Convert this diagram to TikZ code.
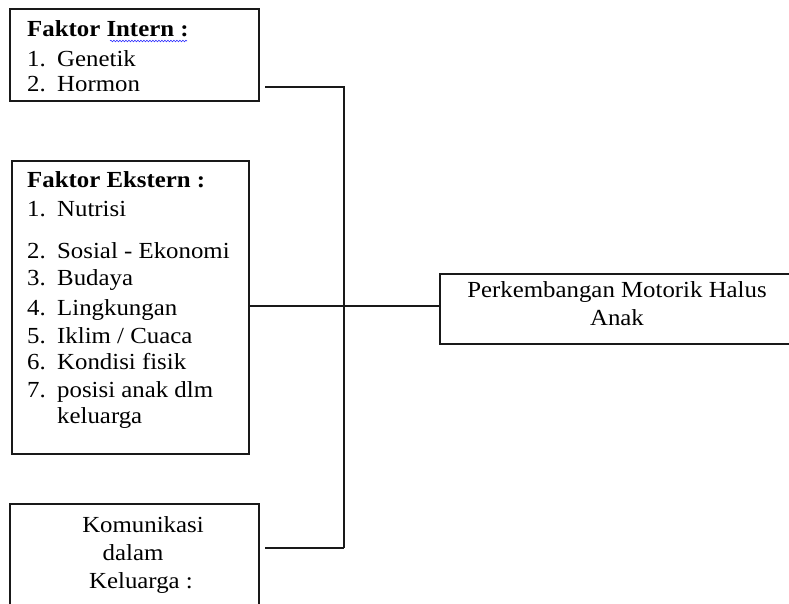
\documentclass[tikz,border=0pt]{standalone}
\usepackage{fontspec}
\setmainfont{Liberation Serif}[FakeStretch=1.08]
\usetikzlibrary{decorations.pathmorphing}
\tikzset{
  box/.style={draw=black!90, line width=1.7pt, rectangle, inner sep=0pt, anchor=north west},
  txt/.style={inner sep=0pt, anchor=base west, font=\fontsize{23}{27}\selectfont, text=black},
  ctxt/.style={inner sep=0pt, anchor=base, font=\fontsize{23}{27}\selectfont, text=black},
  conn/.style={draw=black!90, line width=1.7pt},
}
\newcommand{\itm}[2]{\makebox[30pt][l]{#1}#2}
\begin{document}
\begin{tikzpicture}[x=1pt,y=-1pt]
\useasboundingbox (0,0) rectangle (789,604);
\clip (0,0) rectangle (789,604);
% boxes
\node[box, minimum width=249pt, minimum height=92pt] (intern) at (9,8) {};
\node[box, minimum width=237pt, minimum height=293pt] (ekstern) at (11,160) {};
\node[box, minimum width=361pt, minimum height=70pt] (motorik) at (439,273) {};
\node[box, minimum width=249pt, minimum height=120pt] (komun) at (9,503) {};
% box 1 text
\node[txt] (t1) at (27,37) {\textbf{Faktor Intern :}};
\draw[blue!80, line width=0.6pt, decorate, decoration={snake, amplitude=0.8pt, segment length=3pt}] (110,41) -- (187,41);
\node[txt] (t2) at (27,67) {\itm{1.}{Genetik}};
\node[txt] (t3) at (27,92) {\itm{2.}{Hormon}};
% box 2 text
\node[txt] (e0) at (27,187) {\textbf{Faktor Ekstern :}};
\node[txt] (e1) at (27,216) {\itm{1.}{Nutrisi}};
\node[txt] (e2) at (27,258) {\itm{2.}{Sosial - Ekonomi}};
\node[txt] (e3) at (27,285) {\itm{3.}{Budaya}};
\node[txt] (e4) at (27,315) {\itm{4.}{Lingkungan}};
\node[txt] (e5) at (27,343) {\itm{5.}{Iklim / Cuaca}};
\node[txt] (e6) at (27,369) {\itm{6.}{Kondisi fisik}};
\node[txt] (e7) at (27,397) {\itm{7.}{posisi anak dlm}};
\node[txt] (e8) at (57,423) {keluarga};
% box 3 text
\node[ctxt] (m1) at (617,297) {Perkembangan Motorik Halus};
\node[ctxt] (m2) at (617,325) {Anak};
% box 4 text
\node[ctxt] (k1) at (143,532) {Komunikasi};
\node[ctxt] (k2) at (133,560) {dalam};
\node[ctxt] (k3) at (141,588) {Keluarga :};
% connectors
\coordinate (a1) at (265,87);
\coordinate (j1) at (344,87);
\coordinate (a2) at (249,306);
\coordinate (j2) at (344,306);
\coordinate (a3) at (265,548);
\coordinate (j3) at (344,548);
\draw[conn] (a1) -- (j1) -- (j3);
\draw[conn] (a3) -- (j3);
\draw[conn] (a2) -- (j2) -- (motorik.west |- j2);
\end{tikzpicture}
\end{document}
